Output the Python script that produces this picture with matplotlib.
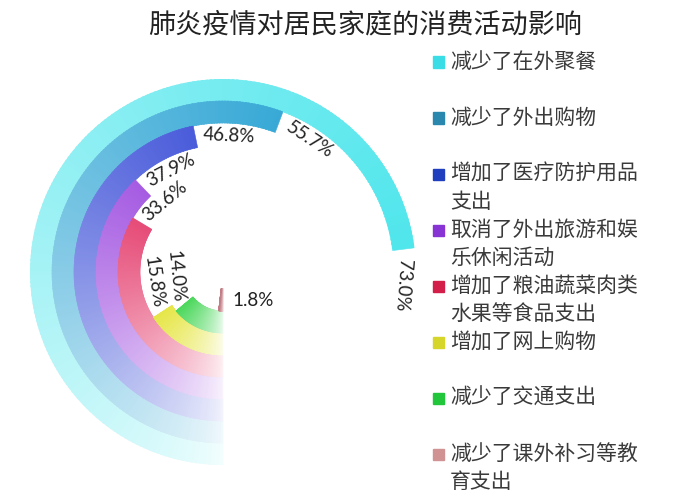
"""
Radial bar chart: effect of the epidemic on household consumption.
Each ring starts at 6 o'clock and runs clockwise, fading in from white.
"""

import numpy as np
import matplotlib
matplotlib.use("Agg")
import matplotlib.pyplot as plt
from matplotlib.colors import to_rgb
from matplotlib.patches import Rectangle

plt.rcParams["font.family"] = ["Noto Sans CJK SC", "DejaVu Sans"]

TITLE = "肺炎疫情对居民家庭的消费活动影响"

categories = [
    "减少了在外聚餐",
    "减少了外出购物",
    "增加了医疗防护用品\n支出",
    "取消了外出旅游和娱\n乐休闲活动",
    "增加了粮油蔬菜肉类\n水果等食品支出",
    "增加了网上购物",
    "减少了交通支出",
    "减少了课外补习等教\n育支出",
]
values = [73.0, 55.7, 46.8, 37.9, 33.6, 15.8, 14.0, 1.8]

ring_colors = ["#4FE6EC", "#38A9D6", "#4A5CDA", "#A65CE2",
               "#E64C78", "#E6E64A", "#4ED85E", "#C27E86"]
legend_colors = ["#3ADDE6", "#2A88AE", "#1F3FBF", "#8833D4",
                 "#D41E4A", "#D6D62A", "#22C63A", "#D09292"]

W, H = 700, 500
HOLE = 17          # empty radius in the middle (px)
RING = 22          # ring thickness (px)
N_SEG = 200
CX, CY = 223, 272  # ring centre in pixels (from top-left)

fig = plt.figure(figsize=(W / 100, H / 100), dpi=100)
R_OUT = HOLE + RING * len(values)
ax = fig.add_axes([(CX - R_OUT) / W, (H - CY - R_OUT) / H,
                   2 * R_OUT / W, 2 * R_OUT / H], projection="polar")
ax.set_theta_zero_location("S")
ax.set_theta_direction(-1)
ax.set_ylim(0, R_OUT)
ax.set_axis_off()

# rings with an angular fade from white to full colour
white = np.ones(3)
for i, (v, col) in enumerate(zip(values, ring_colors)):
    r_in = R_OUT - RING * (i + 1)
    end = np.deg2rad(v * 3.6)
    edges = np.linspace(0, end, N_SEG + 1)
    f = (edges[:-1] + edges[1:]) / 2 / end
    a = 0.06 + 0.94 * f ** 0.7
    rgb = np.array(to_rgb(col))
    cols = white * (1 - a[:, None]) + rgb * a[:, None]
    widths = np.diff(edges) * 1.5
    widths[-1] = np.diff(edges)[-1]
    ax.bar(edges[:-1], RING, width=widths, bottom=r_in, align="edge",
           color=cols, edgecolor=cols, linewidth=0.4)

# value labels, just past the end of each ring, following the arc
for i, v in enumerate(values):
    r_mid = R_OUT - RING * (i + 0.5)
    txt = f"{v:.1f}%"
    if v < 5:
        ax.annotate(txt, (0, r_mid), xytext=(7, 0), textcoords="offset points",
                    ha="left", va="center", fontsize=13.5, color="#222222",
                    family=["Lato", "DejaVu Sans"])
        continue
    th = np.deg2rad(v * 3.6 + 3) + 27 / r_mid
    rot = 180 - np.rad2deg(th)
    if rot > 80:
        rot -= 180
    elif rot <= -100:
        rot += 180
    ax.text(th, r_mid - 2, txt, rotation=rot, rotation_mode="anchor",
            ha="center", va="center", fontsize=13.5, color="#222222",
            family=["Lato", "DejaVu Sans"])

# title
fig.text(365 / W, 1 - 25 / H, TITLE, ha="center", va="center",
         fontsize=19.5, color="#222222")

# legend on the right
for i, (lab, col) in enumerate(zip(categories, legend_colors)):
    y = 62 + 56 * i
    fig.patches.append(Rectangle((433 / W, 1 - (y + 5.5) / H), 11 / W, 11 / H,
                                 transform=fig.transFigure, color=col))
    for k, line in enumerate(lab.split("\n")):
        fig.text(450 / W, 1 - (y + 28 * k) / H, line, ha="left", va="center",
                 fontsize=15, color="#3a3a3a")

fig.savefig("out.png", dpi=100)
